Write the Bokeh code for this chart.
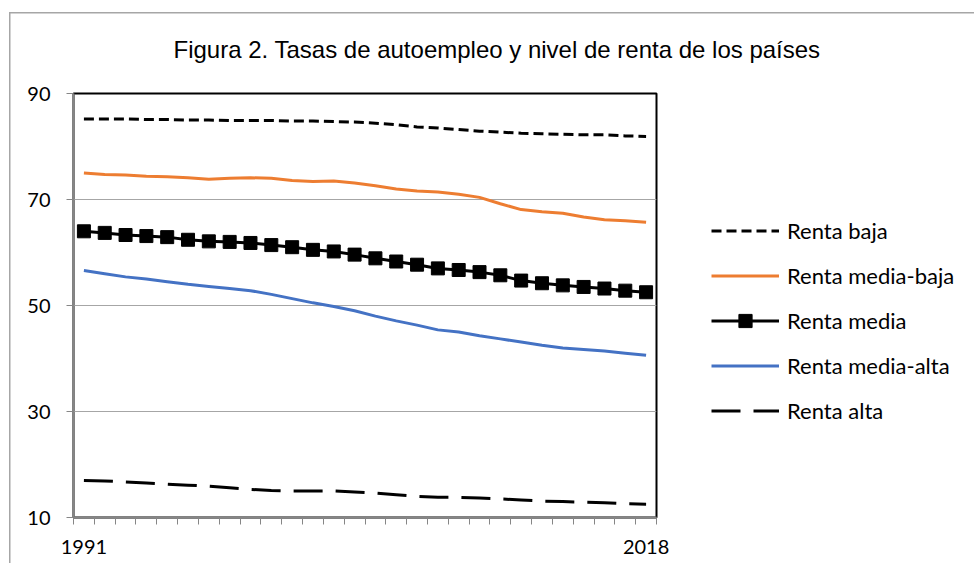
from bokeh.plotting import figure
from bokeh.models import Range1d, FixedTicker, Legend, LegendItem
from bokeh.embed import file_html
from bokeh.resources import INLINE

years = list(range(1991, 2019))
renta_baja = [85.2, 85.2, 85.2, 85.1, 85.1, 85.0, 85.0, 84.9, 84.9, 84.9, 84.8, 84.8, 84.7, 84.6,
              84.4, 84.1, 83.7, 83.5, 83.2, 82.9, 82.7, 82.5, 82.4, 82.3, 82.2, 82.2, 82.0, 81.9]
renta_media_baja = [75.0, 74.7, 74.6, 74.4, 74.3, 74.1, 73.8, 74.0, 74.1, 74.0, 73.6, 73.4, 73.5, 73.1,
                    72.6, 72.0, 71.6, 71.4, 71.0, 70.4, 69.2, 68.1, 67.7, 67.4, 66.7, 66.2, 66.0, 65.7]
renta_media = [64.0, 63.7, 63.3, 63.1, 62.9, 62.4, 62.1, 62.0, 61.8, 61.4, 61.0, 60.5, 60.2, 59.6,
               58.9, 58.3, 57.7, 57.0, 56.7, 56.3, 55.7, 54.7, 54.2, 53.8, 53.5, 53.2, 52.8, 52.5]
renta_media_alta = [56.6, 56.0, 55.4, 55.0, 54.5, 54.0, 53.6, 53.2, 52.8, 52.1, 51.3, 50.5, 49.8, 49.0,
                    48.0, 47.1, 46.3, 45.4, 45.0, 44.3, 43.7, 43.1, 42.5, 42.0, 41.7, 41.4, 41.0, 40.6]
renta_alta = [17.0, 16.9, 16.7, 16.5, 16.3, 16.1, 15.9, 15.6, 15.3, 15.1, 15.0, 15.0, 15.0, 14.8,
              14.6, 14.3, 14.0, 13.8, 13.8, 13.7, 13.5, 13.3, 13.1, 13.0, 12.9, 12.8, 12.6, 12.5]
y_ticks = [10, 30, 50, 70, 90]
x_labels = [1991, 2018]
title_text = "Figura 2. Tasas de autoempleo y nivel de renta de los países"

FONT = "Lato"

p = figure(frame_width=583, frame_height=424, output_backend="svg", toolbar_location=None,
           x_range=Range1d(years[0] - 0.5, years[-1] + 0.5), y_range=Range1d(10, 90),
           min_border_left=73, min_border_right=0, min_border_top=93, min_border_bottom=46)
p.background_fill_color = "white"
p.border_fill_alpha = 0
p.outline_line_color = "black"
p.outline_line_width = 2

# outer chart border (left and top edges of the chart area)
p.styles = {
    "background": ("linear-gradient(#a6a6a6,#a6a6a6) 9px 12px / 1.5px calc(100% - 12px) no-repeat, "
                   "linear-gradient(#a6a6a6,#a6a6a6) 9px 12px / calc(100% - 9px) 1.5px no-repeat, white"),
}

# title
p.title.text = title_text
p.title.align = "left"
p.title.offset = 100
p.title.standoff = 62
p.title.text_font = "Liberation Sans"
p.title.text_font_size = "24px"
p.title.text_font_style = "normal"
p.title.text_color = "black"

# axes
p.yaxis.ticker = FixedTicker(ticks=y_ticks)
p.xaxis.ticker = FixedTicker(ticks=x_labels,
                             minor_ticks=[y - 0.5 for y in years] + [years[-1] + 0.5])
for ax in (p.xaxis, p.yaxis):
    ax.axis_line_color = "#868686"
    ax.axis_line_width = 2
    ax.major_label_text_font = FONT
    ax.major_label_text_font_size = "20px"
    ax.major_label_text_color = "black"
    ax.major_tick_line_color = "#868686"
    ax.minor_tick_line_color = "#868686"
    ax.major_tick_in = 0
    ax.minor_tick_in = 0
p.yaxis.major_tick_out = 7
p.yaxis.minor_tick_out = 0
p.yaxis.major_label_standoff = 16
p.xaxis.major_tick_out = 0
p.xaxis.minor_tick_out = 7
p.xaxis.major_label_standoff = 15

p.xgrid.grid_line_color = None
p.ygrid.ticker = FixedTicker(ticks=y_ticks)
p.ygrid.grid_line_color = "#a6a6a6"
p.ygrid.grid_line_width = 1

# series
r1 = p.line(years, renta_baja, line_color="black", line_width=3, line_dash="10 5")
r2 = p.line(years, renta_media_baja, line_color="#ED7D31", line_width=3)
r3a = p.line(years, renta_media, line_color="black", line_width=3)
r3b = p.scatter(years, renta_media, marker="square", size=13, color="black")
r4 = p.line(years, renta_media_alta, line_color="#4472C4", line_width=3)
r5 = p.line(years, renta_alta, line_color="black", line_width=3, line_dash="29 13")

legend = Legend(items=[
    LegendItem(label="Renta baja", renderers=[r1]),
    LegendItem(label="Renta media-baja", renderers=[r2]),
    LegendItem(label="Renta media", renderers=[r3a, r3b]),
    LegendItem(label="Renta media-alta", renderers=[r4]),
    LegendItem(label="Renta alta", renderers=[r5]),
], location=(55, 90))
legend.padding = 0
legend.margin = 0
legend.border_line_alpha = 0
legend.background_fill_alpha = 0
legend.glyph_width = 68
legend.glyph_height = 33
legend.label_height = 20
legend.spacing = 12
legend.label_standoff = 8
legend.label_text_font = FONT
legend.label_text_font_size = "22px"
legend.label_text_color = "black"
p.add_layout(legend, "right")

open("out.html", "w").write(file_html(p, INLINE))
